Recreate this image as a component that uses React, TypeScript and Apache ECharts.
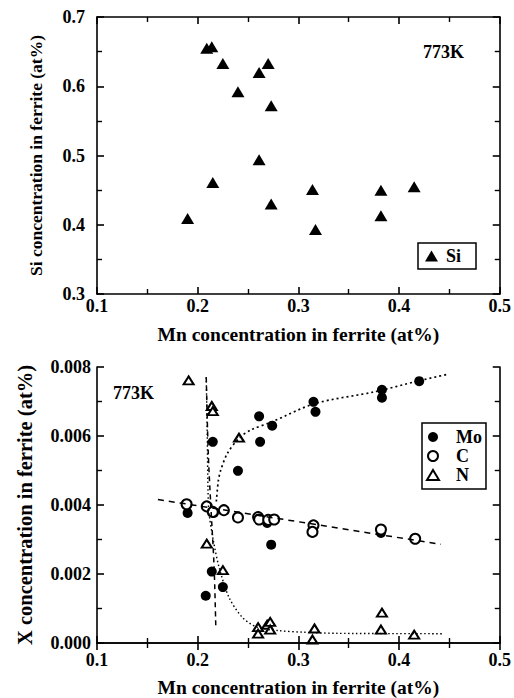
import React, { useEffect, useRef } from "react";
import * as echarts from "echarts";

// ---- Top panel: Si vs Mn ----
const siMn = [0.209, 0.214, 0.225, 0.240, 0.261, 0.270, 0.273, 0.261, 0.215, 0.190, 0.273, 0.314, 0.317, 0.382, 0.382, 0.415];
const siVal = [0.655, 0.657, 0.633, 0.592, 0.620, 0.633, 0.572, 0.494, 0.461, 0.409, 0.430, 0.451, 0.393, 0.450, 0.413, 0.455];

// ---- Bottom panel: X (Mo, C, N) vs Mn ----
const moMn = [0.190, 0.208, 0.214, 0.215, 0.216, 0.225, 0.240, 0.261, 0.262, 0.269, 0.273, 0.274, 0.315, 0.317, 0.382, 0.383, 0.383, 0.420];
const moVal = [0.00377, 0.00137, 0.00207, 0.00583, 0.00377, 0.00162, 0.00499, 0.00657, 0.00583, 0.00348, 0.00285, 0.00630, 0.00699, 0.00670, 0.00319, 0.00734, 0.00711, 0.00759];

const cMn = [0.189, 0.209, 0.215, 0.226, 0.240, 0.260, 0.261, 0.270, 0.276, 0.315, 0.314, 0.382, 0.416];
const cVal = [0.00402, 0.00396, 0.00380, 0.00385, 0.00364, 0.00365, 0.00358, 0.00357, 0.00358, 0.00341, 0.00322, 0.00329, 0.00302];

const nMn = [0.191, 0.214, 0.215, 0.241, 0.209, 0.225, 0.260, 0.260, 0.269, 0.272, 0.272, 0.316, 0.314, 0.383, 0.382, 0.415];
const nVal = [0.00761, 0.00687, 0.00672, 0.00595, 0.00288, 0.00211, 0.00046, 0.00027, 0.00053, 0.00061, 0.00039, 0.00042, 0.00010, 0.00088, 0.00039, 0.00024];

// fitted guide curves
const cFitMn = [0.1605, 0.4415];
const cFitVal = [0.00416, 0.00286];

const moFitMn = [0.2185, 0.2205, 0.2228, 0.2294, 0.2409, 0.2524, 0.2737, 0.3164, 0.3756, 0.4182, 0.447];
const moFitVal = [0.0041, 0.0047, 0.0050, 0.00549, 0.00593, 0.00617, 0.00641, 0.00694, 0.00728, 0.00759, 0.00778];

const nFitMn = [0.2085, 0.2095, 0.2102, 0.2113, 0.2160, 0.2212, 0.231, 0.2441, 0.2589, 0.2803, 0.307, 0.339, 0.4448];
const nFitVal = [0.0077, 0.0060, 0.0045, 0.00375, 0.0029, 0.0022, 0.00133, 0.00075, 0.00046, 0.00036, 0.00031, 0.00028, 0.00027];

const vFitMn = [0.2085, 0.2105, 0.2130, 0.2163, 0.2180];
const vFitVal = [0.0077, 0.0055, 0.0040, 0.0022, 0.00046];

const xTicks = { min: 0.1, max: 0.5, interval: 0.1 };
const topY = { min: 0.3, max: 0.7, interval: 0.1 };
const botY = { min: 0, max: 0.008, interval: 0.002 };

const FONT = "Liberation Serif";

const zip = (a: number[], b: number[]) => a.map((v, i) => [v, b[i]]);

export default function App() {
  const ref = useRef<HTMLDivElement>(null);
  useEffect(() => {
    if (!ref.current) return;
    const chart = echarts.init(ref.current, null, { renderer: "svg" });

    const mkLine = () => ({ show: true, lineStyle: { color: "#000", width: 1.6 } });
    const mkTick = () => ({ show: true, inside: true, length: 7, lineStyle: { color: "#000", width: 1.6 } });
    const mkMinor = () => ({ show: true, splitNumber: 2, length: 5, lineStyle: { color: "#000", width: 1.4 } });
    const labelStyle = { color: "#000", fontFamily: FONT, fontWeight: "bold", fontSize: 18 };
    const nameStyle = { color: "#000", fontFamily: FONT, fontWeight: "bold", fontSize: 19.5 };

    const mkX = (grid: number, top: boolean, showLabel: boolean, margin: number, name: string, gap: number) => {
      const ax: any = {
        type: "value",
        gridIndex: grid,
        min: xTicks.min,
        max: xTicks.max,
        interval: xTicks.interval,
        z: 10,
        axisLine: mkLine(),
        axisTick: mkTick(),
        minorTick: mkMinor(),
        splitLine: { show: false },
        axisLabel: { show: showLabel, margin, ...labelStyle, formatter: (v: number) => v.toFixed(1) },
      };
      if (top) ax.position = "top";
      if (name) {
        ax.name = name;
        ax.nameLocation = "middle";
        ax.nameGap = gap;
        ax.nameTextStyle = nameStyle;
      }
      return ax;
    };

    const mkY = (grid: number, right: boolean, range: any, showLabel: boolean, digits: number, margin: number, name: string, gap: number, nameTS: any) => {
      const ax: any = {
        type: "value",
        gridIndex: grid,
        min: range.min,
        max: range.max,
        interval: range.interval,
        z: 10,
        axisLine: mkLine(),
        axisTick: mkTick(),
        minorTick: mkMinor(),
        splitLine: { show: false },
        axisLabel: { show: showLabel, margin, ...labelStyle, formatter: (v: number) => v.toFixed(digits) },
      };
      if (right) ax.position = "right";
      if (name) {
        ax.name = name;
        ax.nameLocation = "middle";
        ax.nameGap = gap;
        ax.nameTextStyle = nameTS;
      }
      return ax;
    };

    const option: any = {
      animation: false,
      backgroundColor: "#fff",
      grid: [
        { left: 97, width: 406, top: 17, height: 277 },
        { left: 97, width: 406, top: 367, height: 276 },
      ],
      xAxis: [
        mkX(0, false, true, 3, "Mn concentration in ferrite (at%)", 30),
        mkX(1, false, true, 8, "Mn concentration in ferrite (at%)", 34),
        mkX(0, true, false, 3, "", 0),
        mkX(1, true, false, 3, "", 0),
      ],
      yAxis: [
        mkY(0, false, topY, true, 1, 12, "Si concentration in ferrite (at%)", 52, { ...nameStyle, fontSize: 17.5 }),
        mkY(1, false, botY, true, 3, 6, "X concentration in ferrite (at%)", 62, { ...nameStyle, fontSize: 20.5 }),
        mkY(0, true, topY, false, 1, 6, "", 0, nameStyle),
        mkY(1, true, botY, false, 3, 6, "", 0, nameStyle),
      ],
      legend: [
        {
          data: ["Si"],
          left: 418,
          top: 243,
          orient: "vertical",
          padding: [4, 15, 4, 7],
          borderColor: "#000",
          borderWidth: 1.5,
          itemWidth: 13,
          itemHeight: 11,
          textStyle: { ...labelStyle, fontSize: 18, lineHeight: 17, padding: [0, 0, 0, 3] },
        },
        {
          data: ["Mo", "C", "N"],
          left: 422,
          top: 423,
          orient: "vertical",
          padding: [5, 4, 5, 4],
          itemGap: 1,
          borderColor: "#000",
          borderWidth: 1.5,
          itemWidth: 12,
          itemHeight: 10,
          textStyle: { ...nameStyle, fontSize: 18, lineHeight: 16, padding: [0, 0, 0, 12] },
        },
      ],
      graphic: [
        { type: "text", left: 423, top: 43, style: { text: "773K", font: `bold 18px '${FONT}'`, fill: "#000" } },
        { type: "text", left: 113, top: 384, style: { text: "773K", font: `bold 18px '${FONT}'`, fill: "#000" } },
      ],
      series: [
        {
          name: "Si",
          type: "scatter",
          xAxisIndex: 0,
          yAxisIndex: 0,
          symbol: "triangle",
          symbolSize: [13, 11],
          itemStyle: { color: "#000", opacity: 1 },
          data: zip(siMn, siVal),
        },
        {
          name: "cFit",
          type: "line",
          xAxisIndex: 1,
          yAxisIndex: 1,
          symbol: "none",
          lineStyle: { color: "#000", width: 1.5, type: [6, 5] },
          data: zip(cFitMn, cFitVal),
        },
        {
          name: "moFit",
          type: "line",
          xAxisIndex: 1,
          yAxisIndex: 1,
          symbol: "none",
          smooth: 0.3,
          lineStyle: { color: "#000", width: 1.7, type: [2, 3] },
          data: zip(moFitMn, moFitVal),
        },
        {
          name: "nFit",
          type: "line",
          xAxisIndex: 1,
          yAxisIndex: 1,
          symbol: "none",
          smooth: 0.3,
          lineStyle: { color: "#000", width: 1.4, type: [1.5, 2.5] },
          data: zip(nFitMn, nFitVal),
        },
        {
          name: "vFit",
          type: "line",
          xAxisIndex: 1,
          yAxisIndex: 1,
          symbol: "none",
          smooth: 0.3,
          lineStyle: { color: "#000", width: 1.5, type: [5, 4] },
          data: zip(vFitMn, vFitVal),
        },
        {
          name: "Mo",
          type: "scatter",
          xAxisIndex: 1,
          yAxisIndex: 1,
          symbol: "circle",
          symbolSize: 10,
          itemStyle: { color: "#000", opacity: 1 },
          data: zip(moMn, moVal),
        },
        {
          name: "C",
          type: "scatter",
          xAxisIndex: 1,
          yAxisIndex: 1,
          symbol: "circle",
          symbolSize: 10,
          itemStyle: { color: "#fff", borderColor: "#000", borderWidth: 2, opacity: 1 },
          data: zip(cMn, cVal),
        },
        {
          name: "N",
          type: "scatter",
          xAxisIndex: 1,
          yAxisIndex: 1,
          symbol: "triangle",
          symbolSize: [10, 8],
          itemStyle: { color: "#fff", borderColor: "#000", borderWidth: 2, opacity: 1 },
          data: zip(nMn, nVal),
        },
      ],
    };

    chart.setOption(option);
    return () => chart.dispose();
  }, []);

  return (
    <div
      ref={ref}
      style={{ position: "fixed", left: 0, top: 0, width: 514, height: 698, background: "#fff" }}
    />
  );
}
